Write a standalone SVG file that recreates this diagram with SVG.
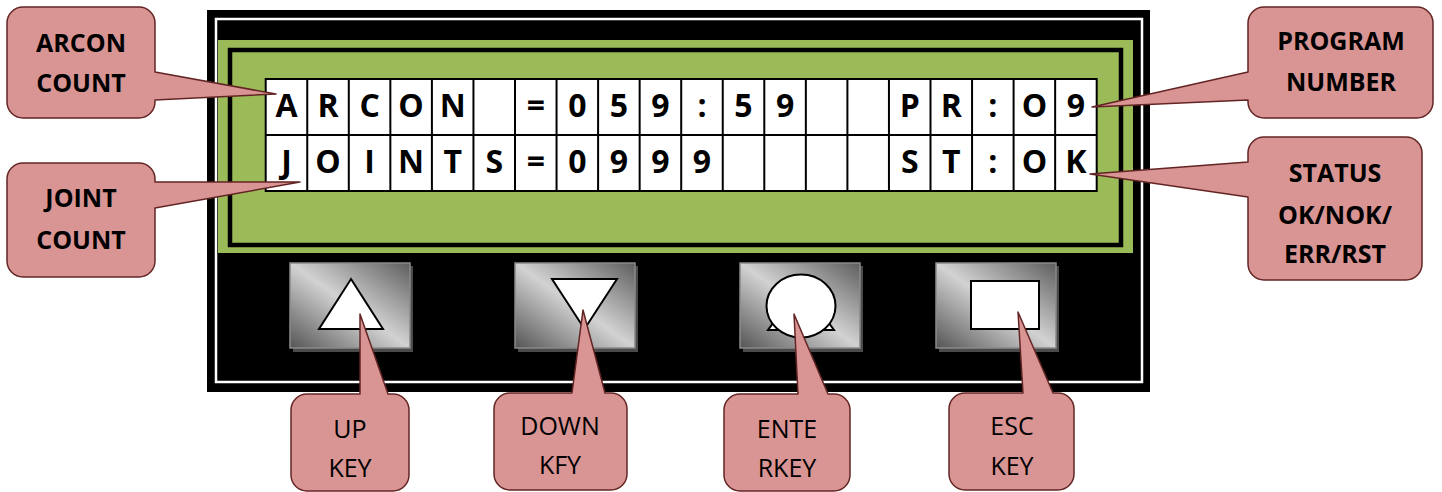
<svg xmlns="http://www.w3.org/2000/svg" width="1442" height="492" viewBox="0 0 1442 492">
<style>
.lcd{font-family:"Open Sans","Liberation Sans",sans-serif;font-weight:bold;font-size:32px;text-anchor:middle;fill:#000}
.cb{font-family:"Open Sans","Liberation Sans",sans-serif;font-weight:bold;font-size:25px;text-anchor:middle;fill:#000}
.cr{font-family:"Open Sans","Liberation Sans",sans-serif;font-size:25px;text-anchor:middle;fill:#000}
.callout{fill:#D99594;stroke:#632523;stroke-width:1.5;stroke-linejoin:round}
.btn{fill:url(#btnGrad);stroke:#8a8a8a;stroke-width:1.5}
.shadow{fill:#4a4a4a}
.sym{fill:#fff;stroke:#000;stroke-width:2}
.grid{stroke:#000;stroke-width:2;fill:none}
.screen{fill:#fff;stroke:#000;stroke-width:2}
</style>
<defs>
<linearGradient id="btnGrad" x1="1" y1="0" x2="0" y2="1">
<stop offset="0" stop-color="#5e5e5e"/>
<stop offset="0.5" stop-color="#d2d2d2"/>
<stop offset="1" stop-color="#555555"/>
</linearGradient>
</defs>
<rect width="1442" height="492" fill="#fff"/>
<g id="frame">
<rect x="207" y="10" width="943" height="382" fill="#000"/>
<rect x="216" y="19" width="926" height="363" fill="none" stroke="#fff" stroke-width="2.5"/>
<rect x="218" y="40" width="915" height="213" fill="#9BBB59"/>
<rect x="230" y="50" width="891" height="195" fill="none" stroke="#000" stroke-width="4.5"/>
</g>
<g id="lcd">
<rect class="screen" x="265.7" y="79" width="831" height="112"/>
<path class="grid" d="M265.7,135H1096.7 M307.25,79V191 M348.8,79V191 M390.35,79V191 M431.9,79V191 M473.45,79V191 M515,79V191 M556.55,79V191 M598.1,79V191 M639.65,79V191 M681.2,79V191 M722.75,79V191 M764.3,79V191 M805.85,79V191 M847.4,79V191 M888.95,79V191 M930.5,79V191 M972.05,79V191 M1013.6,79V191 M1055.15,79V191"/>
<g class="lcd">
<text x="286.5" y="117">A</text><text x="328" y="117">R</text><text x="369.6" y="117">C</text><text x="411.1" y="117">O</text><text x="452.7" y="117">N</text>
<text x="535.8" y="117">=</text><text x="577.3" y="117">0</text><text x="618.9" y="117">5</text><text x="660.4" y="117">9</text><text x="702" y="117">:</text><text x="743.5" y="117">5</text><text x="785.1" y="117">9</text>
<text x="909.7" y="117">P</text><text x="951.3" y="117">R</text><text x="992.8" y="117">:</text><text x="1034.4" y="117">O</text><text x="1075.9" y="117">9</text>
<text x="286.5" y="173">J</text><text x="328" y="173">O</text><text x="369.6" y="173">I</text><text x="411.1" y="173">N</text><text x="452.7" y="173">T</text><text x="494.2" y="173">S</text>
<text x="535.8" y="173">=</text><text x="577.3" y="173">0</text><text x="618.9" y="173">9</text><text x="660.4" y="173">9</text><text x="702" y="173">9</text>
<text x="909.7" y="173">S</text><text x="951.3" y="173">T</text><text x="992.8" y="173">:</text><text x="1034.4" y="173">O</text><text x="1075.9" y="173">K</text>
</g>
</g>
<g id="btn-up">
<rect class="shadow" x="293" y="266" width="120" height="86"/>
<rect class="btn" x="290" y="263" width="120" height="85"/>
<polygon class="sym" points="351,279 383,329 319,329"/>
</g>
<g id="btn-down">
<rect class="shadow" x="518" y="266" width="120" height="86"/>
<rect class="btn" x="515" y="263" width="120" height="85"/>
<polygon class="sym" points="552,279 617,279 584.5,329"/>
</g>
<g id="btn-enter">
<rect class="shadow" x="743" y="266" width="120" height="86"/>
<rect class="btn" x="740" y="263" width="120" height="85"/>
<polygon class="sym" points="768,330 834,330 801,285"/>
<ellipse class="sym" cx="801" cy="306" rx="34.5" ry="31.5"/>
</g>
<g id="btn-esc">
<rect class="shadow" x="939" y="266" width="120" height="86"/>
<rect class="btn" x="936" y="263" width="120" height="85"/>
<rect class="sym" x="971" y="281" width="68" height="48"/>
</g>
<g id="connectors"></g>
<g id="callout-arcon">
<path class="callout" d="M23,7H139A16,16 0 0 1 155,23V72L276,94L155,100V102A16,16 0 0 1 139,118H23A16,16 0 0 1 7,102V23A16,16 0 0 1 23,7Z"/>
<text class="cb" x="81" y="52">ARCON</text>
<text class="cb" x="81" y="92">COUNT</text>
</g>
<g id="callout-joint">
<path class="callout" d="M23,163H139A16,16 0 0 1 155,179V182L300,182L155,208V261A16,16 0 0 1 139,277H23A16,16 0 0 1 7,261V179A16,16 0 0 1 23,163Z"/>
<text class="cb" x="81" y="207">JOINT</text>
<text class="cb" x="81" y="249">COUNT</text>
</g>
<g id="callout-program">
<path class="callout" d="M1264,7H1417A16,16 0 0 1 1433,23V102A16,16 0 0 1 1417,118H1264A16,16 0 0 1 1248,102V100L1092,107L1248,72V23A16,16 0 0 1 1264,7Z"/>
<text class="cb" x="1341" y="50">PROGRAM</text>
<text class="cb" x="1341" y="91">NUMBER</text>
</g>
<g id="callout-status">
<path class="callout" d="M1264,137H1406A16,16 0 0 1 1422,153V264A16,16 0 0 1 1406,280H1264A16,16 0 0 1 1248,264V197L1090,174L1248,162V153A16,16 0 0 1 1264,137Z"/>
<text class="cb" x="1335" y="182">STATUS</text>
<text class="cb" x="1335" y="224">OK/NOK/</text>
<text class="cb" x="1335" y="263">ERR/RST</text>
</g>
<g id="callout-up">
<path class="callout" d="M307,394H360L360,314L388,394H393A16,16 0 0 1 409,410V475A16,16 0 0 1 393,491H307A16,16 0 0 1 291,475V410A16,16 0 0 1 307,394Z"/>
<text class="cr" x="350" y="438">UP</text>
<text class="cr" x="350" y="477">KEY</text>
</g>
<g id="callout-down">
<path class="callout" d="M510,393H572L583,310L605,393H611A16,16 0 0 1 627,409V474A16,16 0 0 1 611,490H510A16,16 0 0 1 494,474V409A16,16 0 0 1 510,393Z"/>
<text class="cr" x="560" y="435">DOWN</text>
<text class="cr" x="560" y="474">KFY</text>
</g>
<g id="callout-enter">
<path class="callout" d="M740,394H798L794,314L828,394H834A16,16 0 0 1 850,410V475A16,16 0 0 1 834,491H740A16,16 0 0 1 724,475V410A16,16 0 0 1 740,394Z"/>
<text class="cr" x="787" y="438">ENTE</text>
<text class="cr" x="787" y="477">RKEY</text>
</g>
<g id="callout-esc">
<path class="callout" d="M965,393H1023L1018,312L1053,393H1058A16,16 0 0 1 1074,409V474A16,16 0 0 1 1058,490H965A16,16 0 0 1 949,474V409A16,16 0 0 1 965,393Z"/>
<text class="cr" x="1012" y="435">ESC</text>
<text class="cr" x="1012" y="475">KEY</text>
</g>
</svg>
